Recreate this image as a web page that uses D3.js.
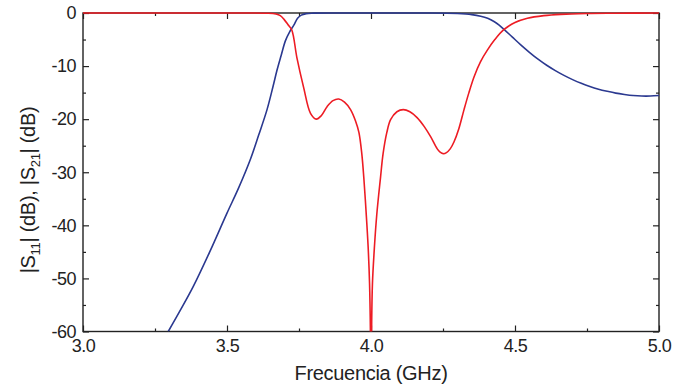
<!DOCTYPE html>
<html>
<head>
<meta charset="utf-8">
<script src="https://cdn.jsdelivr.net/npm/d3@7"></script>
<style>
  body { margin: 0; background: #fff; }
  svg { display: block; font-family: Arial, "Liberation Sans", sans-serif; }
</style>
</head>
<body>
<svg id="viz"></svg>
<script>
var width = 696;
var height = 390;

// |S21| (GHz, dB)
var s21Freq = [3.296, 3.34, 3.383, 3.44, 3.5, 3.54, 3.581, 3.61, 3.639, 3.66, 3.674, 3.688, 3.703, 3.718, 3.732, 3.745, 3.758, 3.775, 3.8, 3.9, 4.0, 4.1, 4.2, 4.3, 4.35, 4.381, 4.405, 4.427, 4.445, 4.462, 4.49, 4.52, 4.55, 4.58, 4.61, 4.64, 4.67, 4.70, 4.73, 4.76, 4.79, 4.82, 4.85, 4.88, 4.91, 4.94, 4.97, 5.0];
var s21dB = [-60, -55.8, -51.5, -45, -37.7, -33.0, -27.6, -23, -18.2, -13.8, -10.7, -8, -5.2, -3.5, -2.3, -1.0, -0.4, -0.12, -0.03, 0, 0, 0, 0, -0.1, -0.3, -0.6, -1.0, -1.6, -2.3, -3.1, -4.5, -6.0, -7.4, -8.7, -9.85, -10.85, -11.75, -12.55, -13.25, -13.85, -14.35, -14.75, -15.1, -15.35, -15.55, -15.65, -15.65, -15.55];

// |S11|
var s11Freq = [3.0, 3.5, 3.64, 3.67, 3.685, 3.698, 3.712, 3.725, 3.743, 3.766, 3.79, 3.81, 3.828, 3.848, 3.868, 3.888, 3.908, 3.929, 3.946, 3.958, 3.968, 3.975, 3.983, 3.99, 3.995, 3.998, 4.0, 4.002, 4.005, 4.012, 4.02, 4.033, 4.042, 4.055, 4.068, 4.09, 4.112, 4.135, 4.16, 4.185, 4.207, 4.23, 4.24, 4.251, 4.262, 4.275, 4.288, 4.305, 4.323, 4.34, 4.358, 4.38, 4.404, 4.43, 4.462, 4.5, 4.543, 4.6, 4.659, 4.75, 4.85, 5.0];
var s11dB = [0, 0, -0.05, -0.2, -0.5, -1.2, -2.2, -3.2, -8.5, -14, -18.9, -20.0, -19.3, -17.6, -16.5, -16.2, -16.8, -18.2, -20.3, -22.5, -26.5, -31, -37.5, -44, -51, -60, -75, -60, -51, -44, -38, -31, -26.5, -22.5, -20.1, -18.6, -18.2, -18.6, -19.7, -21.4, -23.3, -25.6, -26.2, -26.5, -26.3, -25.6, -24.3, -21.8, -18.2, -15, -12, -9.2, -7, -5, -3.1, -1.8, -1.0, -0.5, -0.25, -0.1, -0.05, 0];

var xTicks = [3.0, 3.5, 4.0, 4.5, 5.0];
var xMinor = [3.25, 3.75, 4.25, 4.75];
var yTicks = [0, -10, -20, -30, -40, -50, -60];
var yMinor = [-5, -15, -25, -35, -45, -55];

var margin = {top: 13, right: 37, bottom: 58.5, left: 83};
var plotW = width - margin.left - margin.right;
var plotH = height - margin.top - margin.bottom;

var svg = d3.select("#viz").attr("width", width).attr("height", height);
var g = svg.append("g").attr("transform", "translate(" + margin.left + "," + margin.top + ")");

var x = d3.scaleLinear().domain([3.0, 5.0]).range([0, plotW]);
var y = d3.scaleLinear().domain([-60, 0]).range([plotH, 0]);

// curves are clipped to the frame (the null at 4 GHz goes below -60)
svg.append("defs").append("clipPath").attr("id", "clip")
    .append("rect").attr("x", 0).attr("y", -2).attr("width", plotW).attr("height", plotH + 2);

// ticks point inwards on all four sides, labels only left and bottom
function styleAxis(sel) {
    sel.selectAll(".domain").remove();
    sel.selectAll("line").attr("stroke", "#222").attr("stroke-width", 1.2);
    sel.selectAll("text").attr("fill", "#222").style("font-size", "18px").style("letter-spacing", "-0.5px");
}

g.append("g").attr("transform", "translate(0," + plotH + ")")
    .call(d3.axisBottom(x).tickValues(xTicks).tickSize(-6).tickPadding(8).tickFormat(d3.format(".1f")))
    .call(styleAxis);
g.append("g").attr("transform", "translate(0," + plotH + ")")
    .call(d3.axisBottom(x).tickValues(xMinor).tickSize(-3).tickFormat(""))
    .call(styleAxis);
g.append("g")
    .call(d3.axisTop(x).tickValues(xTicks).tickSize(-6).tickFormat(""))
    .call(styleAxis);
g.append("g")
    .call(d3.axisTop(x).tickValues(xMinor).tickSize(-3).tickFormat(""))
    .call(styleAxis);

g.append("g")
    .call(d3.axisLeft(y).tickValues(yTicks).tickSize(-6).tickPadding(7).tickFormat(function(d) { return String(d); }))
    .call(styleAxis);
g.append("g")
    .call(d3.axisLeft(y).tickValues(yMinor).tickSize(-3).tickFormat(""))
    .call(styleAxis);
g.append("g").attr("transform", "translate(" + plotW + ",0)")
    .call(d3.axisRight(y).tickValues(yTicks).tickSize(-6).tickFormat(""))
    .call(styleAxis);
g.append("g").attr("transform", "translate(" + plotW + ",0)")
    .call(d3.axisRight(y).tickValues(yMinor).tickSize(-3).tickFormat(""))
    .call(styleAxis);

// frame
g.append("rect")
    .attr("width", plotW).attr("height", plotH)
    .attr("fill", "none").attr("stroke", "#222").attr("stroke-width", 1.4);

var line = d3.line()
    .x(function(d) { return x(d[0]); })
    .y(function(d) { return y(d[1]); })
    .curve(d3.curveCatmullRom.alpha(0.5));

var curves = g.append("g").attr("clip-path", "url(#clip)");

curves.append("path")
    .datum(d3.zip(s21Freq, s21dB))
    .attr("d", line)
    .attr("fill", "none")
    .attr("stroke", "#2b3990")
    .attr("stroke-width", 1.6);

curves.append("path")
    .datum(d3.zip(s11Freq, s11dB))
    .attr("d", line)
    .attr("fill", "none")
    .attr("stroke", "#ed1c24")
    .attr("stroke-width", 1.6);

// axis titles
svg.append("text")
    .attr("x", margin.left + plotW / 2)
    .attr("y", 380)
    .attr("text-anchor", "middle")
    .attr("fill", "#222")
    .style("font-size", "20px")
    .style("letter-spacing", "-0.3px")
    .text("Frecuencia (GHz)");

var yTitle = svg.append("text")
    .attr("transform", "translate(35,190) rotate(-90)")
    .attr("text-anchor", "middle")
    .attr("fill", "#222")
    .style("font-size", "20px")
    .style("letter-spacing", "-0.3px");
yTitle.append("tspan").text("|S");
yTitle.append("tspan").attr("dy", 5).style("font-size", "13px").text("11");
yTitle.append("tspan").attr("dy", -5).text("| (dB), |S");
yTitle.append("tspan").attr("dy", 5).style("font-size", "13px").text("21");
yTitle.append("tspan").attr("dy", -5).text("| (dB)");
</script>
</body>
</html>
